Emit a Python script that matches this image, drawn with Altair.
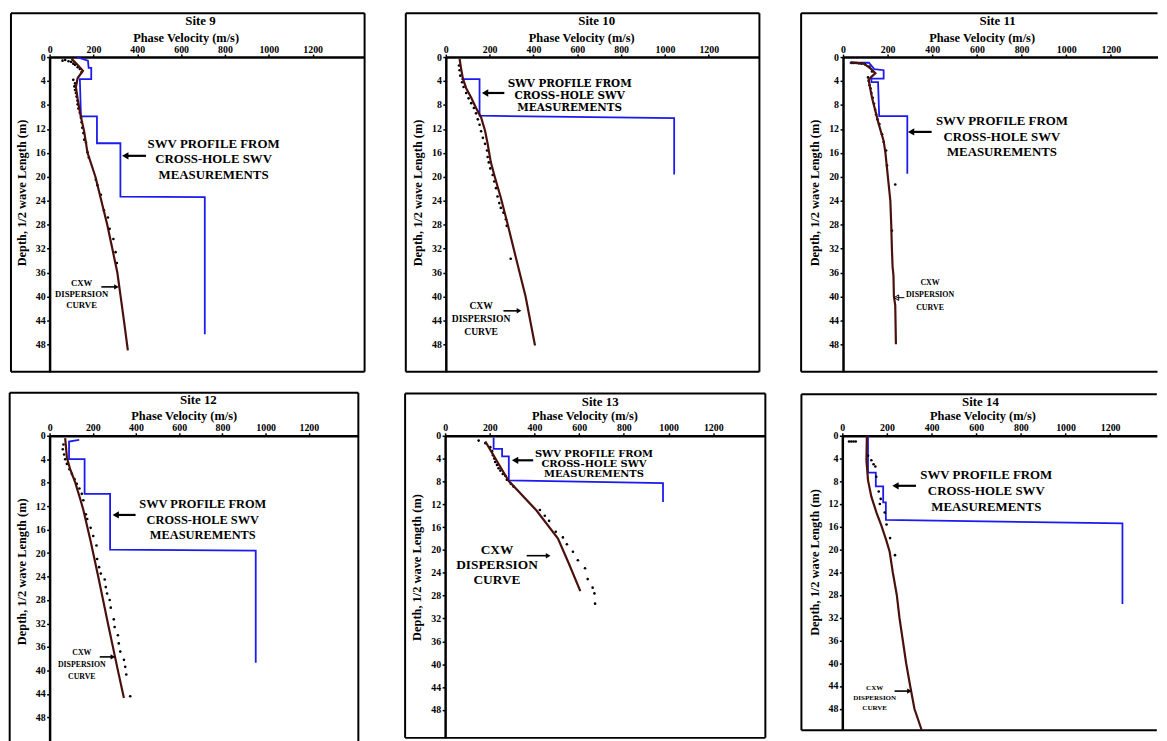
import altair as alt
import pandas as pd

SERIF = "Liberation Serif"
WIDE = "DejaVu Serif"
BLUE = "#1b1bef"
CURVE = "#4a100c"
INK = "black"

X_TICKS = [0, 200, 400, 600, 800, 1000, 1200]
Y_TICKS = [0, 4, 8, 12, 16, 20, 24, 28, 32, 36, 40, 44, 48]
X_TITLE = "Phase Velocity (m/s)"
Y_TITLE = "Depth, 1/2 wave Length (m)"
SWV_TEXT = "SWV PROFILE FROM\nCROSS-HOLE SWV\nMEASUREMENTS"
CXW_TEXT = "CXW\nDISPERSION\nCURVE"
SITE_NAMES = ["Site 9", "Site 10", "Site 11", "Site 12", "Site 13", "Site 14"]

# ---------------- Site 9 ----------------
site9_swv_v = [125, 175, 178, 190, 190, 138, 143, 216, 216, 323, 323, 708, 708]
site9_swv_d = [0.0, 0.6, 1.8, 1.8, 3.7, 3.7, 9.9, 9.9, 14.4, 14.4, 23.3, 23.4, 46.3]
site9_cxw_v = [100, 125, 152, 128, 120, 128, 140, 158, 173, 209, 236, 263, 286, 309, 324, 339, 357]
site9_cxw_d = [0.3, 1.2, 2.3, 3.5, 5.0, 7.0, 9.5, 12.5, 16.0, 20.0, 24.0, 28.0, 32.0, 36.0, 40.0, 44.0, 49.0]
site9_dot_v = [59, 71, 86, 98, 108, 116, 128, 138, 146, 108, 116, 113, 116, 120, 123, 127, 128, 131,
               138, 143, 146, 149, 154, 158, 166, 173, 179, 211, 218, 234, 248, 266, 274, 291, 301, 307]
site9_dot_d = [0.6, 0.5, 0.7, 0.8, 1.1, 1.3, 1.7, 2.0, 2.5, 3.8, 4.4, 4.9, 5.5, 6.0, 6.6, 7.3, 7.9, 8.6,
               9.3, 10.1, 10.9, 11.8, 12.7, 13.8, 14.3, 15.9, 16.8, 20.5, 21.4, 23.0, 25.6, 26.8, 28.7, 30.4, 32.6, 34.4]

# ---------------- Site 10 ----------------
site10_swv_v = [71, 154, 154, 1042, 1042]
site10_swv_d = [3.7, 3.7, 9.8, 10.2, 19.6]
site10_cxw_v = [63, 70, 78, 93, 116, 138, 161, 179, 191, 205, 221, 251, 282, 319, 364, 407]
site10_cxw_d = [0.3, 2.0, 3.6, 5.2, 6.8, 8.5, 10.1, 12.3, 14.5, 17.5, 19.7, 23.5, 27.9, 33.4, 40.0, 48.2]
site10_dot_v = [60, 63, 66, 74, 81, 93, 104, 116, 128, 138, 146, 154, 161, 169, 179, 188, 191, 196, 203,
                214, 221, 229, 236, 244, 251, 263, 274, 278, 296]
site10_dot_d = [1.4, 2.2, 3.1, 4.2, 5.0, 6.0, 6.9, 7.7, 8.5, 9.4, 10.4, 11.3, 12.4, 13.5, 14.5, 15.6, 16.7,
                17.6, 18.6, 19.7, 20.8, 21.9, 23.3, 24.4, 25.2, 26.0, 27.1, 28.2, 33.7]

# ---------------- Site 11 ----------------
site11_swv_v = [30, 116, 140, 182, 182, 127, 127, 157, 162, 288, 288]
site11_swv_d = [0.95, 0.95, 2.0, 2.2, 3.6, 3.6, 4.2, 4.2, 9.85, 9.85, 19.5]
site11_cxw_v = [34, 93, 123, 145, 127, 115, 120, 130, 145, 160, 182, 190, 201, 212, 216, 219, 222, 226, 228, 234, 237]
site11_cxw_d = [0.9, 1.1, 1.9, 2.7, 3.3, 3.8, 4.9, 6.8, 9.0, 11.2, 14.0, 16.0, 20.0, 24.0, 28.0, 32.0, 35.0,
                36.5, 40.0, 41.5, 48.0]
site11_dot_v = [39, 49, 59, 71, 83, 98, 118, 130, 112, 115, 119, 123, 127, 133, 139, 144, 148, 154, 163,
                175, 182, 193, 197, 234, 219]
site11_dot_d = [1.0, 1.0, 1.0, 1.05, 1.1, 1.2, 1.6, 2.4, 3.4, 4.0, 4.7, 5.2, 6.0, 6.8, 7.8, 8.8, 9.6, 10.4,
                11.2, 12.9, 14.2, 15.6, 18.1, 21.3, 29.0]

# ---------------- Site 12 ----------------
site12_swv_v = [137, 90, 90, 162, 162, 280, 280, 954, 954]
site12_swv_d = [0.7, 1.0, 4.0, 4.0, 9.9, 9.9, 19.4, 19.6, 38.7]
site12_cxw_v = [72, 76, 80, 95, 118, 141, 156, 190, 225, 270, 316, 344]
site12_cxw_d = [0.4, 2.0, 3.7, 5.7, 7.9, 10.7, 12.6, 18.0, 24.0, 32.0, 40.0, 44.7]
site12_dot_v = [64, 61, 67, 72, 80, 92, 103, 115, 126, 138, 149, 156, 168, 174, 190, 202, 217, 220, 229,
                237, 255, 260, 266, 278, 283, 297, 301, 316, 320, 327, 344, 350, 355, 373]
site12_dot_d = [1.5, 2.3, 3.2, 4.0, 4.8, 5.7, 6.5, 7.4, 8.2, 9.0, 9.9, 11.0, 13.4, 14.2, 15.7, 17.1, 18.7,
                21.0, 22.4, 23.5, 24.5, 25.8, 26.9, 28.0, 29.3, 31.3, 32.6, 34.0, 35.4, 36.8, 38.2, 39.4, 40.7, 44.4]

# ---------------- Site 13 ----------------
site13_swv_v = [217, 217, 255, 255, 285, 285, 975, 975]
site13_swv_d = [0.3, 2.3, 2.3, 3.6, 3.6, 7.8, 8.3, 11.6]
site13_cxw_v = [180, 284, 409, 505, 555, 605]
site13_cxw_d = [1.0, 7.9, 13.1, 18.0, 22.5, 27.2]
site13_dot_v = [150, 180, 202, 210, 214, 220, 224, 232, 239, 247, 258, 269, 276, 294, 306, 424, 446, 465,
                495, 527, 545, 572, 594, 626, 638, 660, 668, 671]
site13_dot_d = [0.85, 1.3, 2.0, 2.7, 3.4, 4.0, 4.6, 5.1, 5.7, 6.1, 6.7, 7.0, 7.7, 8.4, 8.9, 13.0, 14.0,
                14.9, 16.8, 17.8, 19.0, 20.3, 21.8, 23.2, 25.1, 26.6, 27.6, 29.4]

# ---------------- Site 14 ----------------
site14_swv_v = [115, 115, 150, 150, 183, 183, 195, 195, 1255, 1255]
site14_swv_d = [0.0, 6.5, 6.5, 8.9, 8.9, 11.7, 11.7, 14.8, 15.4, 29.6]
site14_cxw_v = [110, 108, 115, 130, 153, 175, 197, 212, 226, 244, 256, 271, 286, 304, 323, 355]
site14_cxw_d = [0.0, 4.3, 7.8, 10.7, 13.5, 15.8, 18.4, 20.4, 24.0, 28.0, 32.0, 36.0, 40.0, 44.0, 48.0, 51.7]
site14_dot_v = [30, 40, 50, 60, 115, 130, 140, 148, 152, 163, 172, 168, 190, 198, 214, 236]
site14_dot_d = [1.0, 1.0, 1.0, 1.0, 3.5, 4.3, 5.0, 5.4, 7.2, 9.8, 11.1, 12.0, 13.5, 15.6, 18.0, 21.0]

# annotation anchors: label centre [velocity, depth]; arrow [tail velocity, head velocity, depth]
swv_label_at = [[748, 17.1], [565, 6.5], [712, 13.3], [709, 14.3], [666, 5.0], [645, 9.7]]
swv_arrow_at = [[440, 345, 16.5], [267, 179, 6.0], [397, 305, 12.5], [398, 306, 13.5], [394, 313, 4.3], [330, 238, 8.8]]
cxw_label_at = [[146, 39.6], [161, 43.8], [390, 39.8], [149, 39.1], [232, 22.7], [145, 46.1]]
cxw_arrow_at = [[236, 305, 38.4], [263, 334, 42.4], [275, 239, 40.2], [232, 293, 37.7], [365, 461, 21.0], [234, 301, 44.9]]

# layout (pixels) per panel
LAYOUT = [
    dict(w=318, h=317.7, xmax=1437, ymax=52.58, fl=39, ft=44.3, right=True, bottom=True, pad=0,
         tx=152.3, ty=-36, xt=137.3, yt=136.7, swv=(SERIF, 13, 16), cxw=(SERIF, 8.8, 11), hollow=False),
    dict(w=316.6, h=317.7, xmax=1431, ymax=52.58, fl=40.4, ft=44.3, right=True, bottom=True, pad=0,
         tx=152.3, ty=-36, xt=136.7, yt=136.7, swv=(WIDE, 10.5, 11.7), cxw=(SERIF, 9.7, 13.3), hollow=False),
    dict(w=317.5, h=317.7, xmax=1409, ymax=52.58, fl=42.3, ft=44.3, right=False, bottom=True, pad=0,
         tx=156, ty=-36, xt=139.9, yt=136.7, swv=(SERIF, 13, 16), cxw=(SERIF, 8, 12.7), hollow=True),
    dict(w=311.7, h=311.5, xmax=1429, ymax=52.6, fl=40.3, ft=43.4, right=True, bottom=False, pad=0,
         tx=150.2, ty=-35.7, xt=135.4, yt=136.8, swv=(SERIF, 12.5, 15.7), cxw=(SERIF, 7.9, 12.3), hollow=False),
    dict(w=323.3, h=305, xmax=1433, ymax=52.9, fl=40.4, ft=42.7, right=True, bottom=True, pad=48.2,
         tx=156.6, ty=-34.3, xt=140.6, yt=132.5, swv=(WIDE, 10, 10.3), cxw=(SERIF, 13.5, 15), hollow=False),
    dict(w=317.5, h=297.4, xmax=1409, ymax=51.8, fl=41.3, ft=42, right=False, bottom=True, pad=0,
         tx=139.4, ty=-34.3, xt=141.5, yt=127.4, swv=(SERIF, 13, 16), cxw=(SERIF, 7.1, 10.5), hollow=False),
]

SERIES = [
    (site9_swv_v, site9_swv_d, site9_cxw_v, site9_cxw_d, site9_dot_v, site9_dot_d),
    (site10_swv_v, site10_swv_d, site10_cxw_v, site10_cxw_d, site10_dot_v, site10_dot_d),
    (site11_swv_v, site11_swv_d, site11_cxw_v, site11_cxw_d, site11_dot_v, site11_dot_d),
    (site12_swv_v, site12_swv_d, site12_cxw_v, site12_cxw_d, site12_dot_v, site12_dot_d),
    (site13_swv_v, site13_swv_d, site13_cxw_v, site13_cxw_d, site13_dot_v, site13_dot_d),
    (site14_swv_v, site14_swv_d, site14_cxw_v, site14_cxw_d, site14_dot_v, site14_dot_d),
]


def panel(k):
    name = SITE_NAMES[k]
    lay = LAYOUT[k]
    sv, sd, cv, cd, dv, dd = SERIES[k]
    w, h, fl, ft = lay["w"], lay["h"], lay["fl"], lay["ft"]

    xs = alt.Scale(domain=[0, lay["xmax"]], nice=False, zero=False)
    ys = alt.Scale(domain=[0, lay["ymax"]], nice=False, zero=False, reverse=True)
    xenc = alt.X("v:Q", scale=xs, axis=alt.Axis(
        orient="top", values=X_TICKS, format="d", title=X_TITLE, titleX=lay["xt"], titleY=-20,
        titleAlign="center", titleBaseline="middle", labelPadding=0))
    yenc = alt.Y("d:Q", scale=ys, axis=alt.Axis(
        values=Y_TICKS, format="d", title=Y_TITLE, titleAngle=270, titleX=-28.5, titleY=lay["yt"],
        titleAlign="center", titleBaseline="middle", labelPadding=1.5))

    one = alt.Chart(pd.DataFrame({"k": [0]}))
    parts = []
    fr = dict(color=INK, strokeWidth=2)
    parts.append(one.mark_rule(**fr).encode(x=alt.value(-fl), x2=alt.value(w), y=alt.value(-ft)))
    parts.append(one.mark_rule(**fr).encode(x=alt.value(-fl), y=alt.value(-ft), y2=alt.value(h)))
    if lay["right"]:
        parts.append(one.mark_rule(**fr).encode(x=alt.value(w), y=alt.value(-ft), y2=alt.value(h)))
    if lay["bottom"]:
        parts.append(one.mark_rule(**fr).encode(x=alt.value(-fl), x2=alt.value(w), y=alt.value(h)))
    if lay["pad"]:
        parts.append(one.mark_rule(color="white", strokeWidth=1).encode(
            x=alt.value(0), x2=alt.value(20), y=alt.value(-lay["pad"])))

    swv_df = pd.DataFrame({"v": sv, "d": sd, "i": list(range(len(sv)))})
    cxw_df = pd.DataFrame({"v": cv, "d": cd, "i": list(range(len(cv)))})
    dot_df = pd.DataFrame({"v": dv, "d": dd})

    parts.append(alt.Chart(swv_df).mark_line(color=BLUE, strokeWidth=1.8).encode(
        x=xenc, y=yenc, order="i:Q"))
    parts.append(alt.Chart(dot_df).mark_circle(color=INK, size=7, opacity=1).encode(x=xenc, y=yenc))
    parts.append(alt.Chart(cxw_df).mark_line(color=CURVE, strokeWidth=2.2).encode(
        x=xenc, y=yenc, order="i:Q"))

    # labels (anchor = middle line; first line is shifted up by one line height)
    f, fs, lh = lay["swv"]
    lab = pd.DataFrame({"v": [swv_label_at[k][0]], "d": [swv_label_at[k][1]], "t": [SWV_TEXT]})
    parts.append(alt.Chart(lab).mark_text(font=f, fontSize=fs, lineHeight=lh, fontWeight="bold", dy=-lh,
                                          lineBreak="\n", align="center", baseline="middle", color=INK)
                 .encode(x=xenc, y=yenc, text="t:N"))
    f, fs, lh = lay["cxw"]
    lab = pd.DataFrame({"v": [cxw_label_at[k][0]], "d": [cxw_label_at[k][1]], "t": [CXW_TEXT]})
    parts.append(alt.Chart(lab).mark_text(font=f, fontSize=fs, lineHeight=lh, fontWeight="bold", dy=-lh,
                                          lineBreak="\n", align="center", baseline="middle", color=INK)
                 .encode(x=xenc, y=yenc, text="t:N"))

    # arrows
    for arr, big in ((swv_arrow_at[k], True), (cxw_arrow_at[k], False)):
        tail, head, dep = arr
        adf = pd.DataFrame({"v": [tail], "v2": [head], "d": [dep]})
        hollow = (not big) and lay["hollow"]
        parts.append(alt.Chart(adf).mark_rule(color=INK, strokeWidth=1 if hollow else (2.2 if big else 1.6))
                     .encode(x=xenc, x2=alt.X2("v2:Q"), y=yenc))
        hdf = pd.DataFrame({"v": [head], "d": [dep]})
        shape = "triangle-left" if head < tail else "triangle-right"
        if hollow:
            parts.append(alt.Chart(hdf).mark_point(shape=shape, filled=False, size=30, color=INK,
                                                   strokeWidth=1, opacity=1).encode(x=xenc, y=yenc))
        else:
            parts.append(alt.Chart(hdf).mark_point(shape=shape, filled=True, size=55 if big else 30,
                                                   color=INK, opacity=1).encode(x=xenc, y=yenc))

    # site title
    parts.append(one.mark_text(font=SERIF, fontSize=13, fontWeight="bold", color=INK,
                               align="center", baseline="middle")
                 .encode(x=alt.value(lay["tx"]), y=alt.value(lay["ty"]), text=alt.value(name)))

    return alt.layer(*parts).properties(width=w, height=h)


p = [panel(k) for k in range(6)]
row1 = alt.hconcat(p[0], p[1], p[2], spacing=39)
row2 = alt.hconcat(p[3], alt.hconcat(p[4], p[5], spacing=33), spacing=44.3)

chart = (
    alt.vconcat(row1, row2, spacing=14.3)
    .properties(padding=0)
    .configure_view(strokeWidth=0)
    .configure_axis(
        domainColor=INK, domainWidth=2.5, tickColor=INK, tickWidth=1.5, tickSize=3,
        labelFont=SERIF, labelFontWeight="bold", labelFontSize=10, labelColor=INK,
        titleFont=SERIF, titleFontWeight="bold", titleFontSize=12.5, titleColor=INK,
        grid=False, labelFlush=False, labelOverlap=False,
    )
)

chart.save("out.html", embed_options={"renderer": "svg", "actions": False})
